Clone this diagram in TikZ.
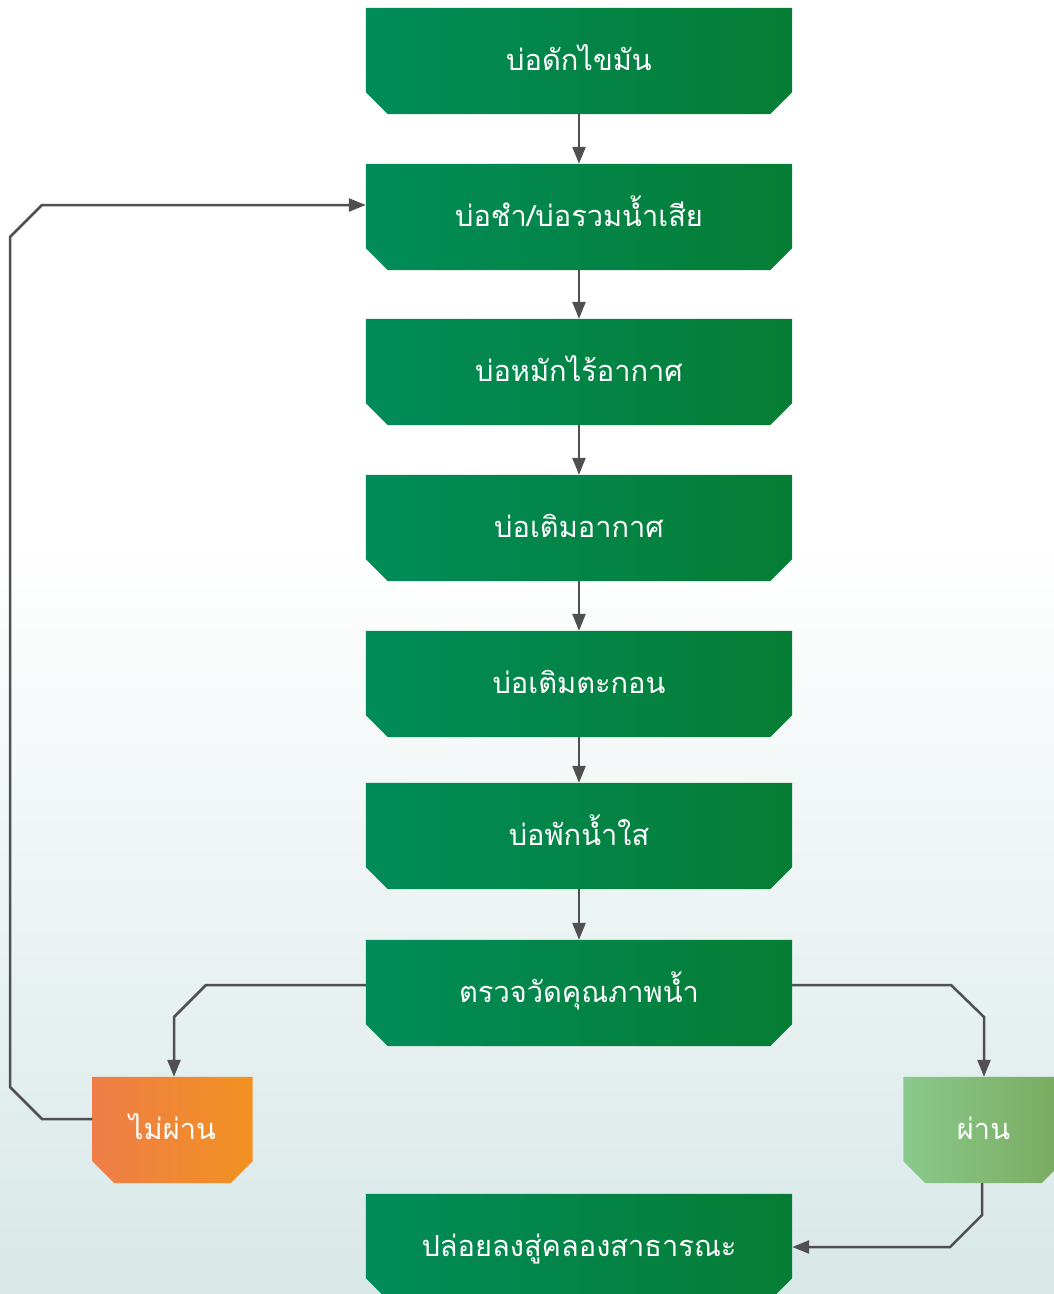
\documentclass[tikz,border=0pt]{standalone}
\usepackage{fontspec}
\newfontfamily\thaifont[Script=Thai]{Loma}
\usetikzlibrary{arrows.meta}
\definecolor{gleft}{RGB}{0,140,90}
\definecolor{gright}{RGB}{6,125,52}
\definecolor{oleft}{RGB}{238,125,72}
\definecolor{oright}{RGB}{242,146,33}
\definecolor{lleft}{RGB}{137,201,140}
\definecolor{lright}{RGB}{122,170,94}
\definecolor{bgbottom}{RGB}{216,232,231}
\definecolor{linegray}{RGB}{80,80,82}
\pgfdeclarelayer{backdrop}
\pgfdeclarelayer{boxes}
\pgfsetlayers{backdrop,boxes,main}
\tikzset{
  stage/.style={rectangle, minimum width=426pt, minimum height=106pt, inner sep=0pt,
    text height=24pt, text depth=6pt,
    draw=none, text=white, font=\thaifont\fontsize{29}{35}\selectfont},
  result/.style={stage, minimum width=160pt},
  conn/.style={draw=linegray, line width=2.5pt, -{Triangle[length=17pt,width=13pt]}},
  greenfill/.style={left color=gleft, right color=gright},
  orangefill/.style={left color=oleft, right color=oright},
  lightfill/.style={left color=lleft, right color=lright},
}
% box outline with cut lower corners, shaded behind a named node
\newcommand\cutbox[2]{%
  \begin{pgfonlayer}{boxes}
    \shade[#2] (#1.north west) -- (#1.north east) -- ([yshift=22pt]#1.south east)
      -- ([xshift=-22pt]#1.south east) -- ([xshift=22pt]#1.south west)
      -- ([yshift=22pt]#1.south west) -- cycle;
  \end{pgfonlayer}}
\begin{document}
\begin{tikzpicture}[x=1pt,y=-1pt]
  \useasboundingbox (0,0) rectangle (1054,1294);
  \clip (0,0) rectangle (1054,1294);
  % page background fading to pale teal
  \begin{pgfonlayer}{backdrop}
    \fill[white] (0,0) rectangle (1054,1294);
    \shade[top color=white, bottom color=bgbottom] (0,540) rectangle (1054,1294);
  \end{pgfonlayer}

  % treatment stages
  \node[stage] (b1) at (579,61)  {บ่อดักไขมัน};
  \node[stage] (b2) at (579,217) {บ่อชำ/บ่อรวมน้ำเสีย};
  \node[stage] (b3) at (579,372) {บ่อหมักไร้อากาศ};
  \node[stage] (b4) at (579,528) {บ่อเติมอากาศ};
  \node[stage] (b5) at (579,684) {บ่อเติมตะกอน};
  \node[stage] (b6) at (579,836) {บ่อพักน้ำใส};
  \node[stage] (b7) at (579,993) {ตรวจวัดคุณภาพน้ำ};
  \node[stage] (b8) at (579,1247) {ปล่อยลงสู่คลองสาธารณะ};
  \foreach \n in {b1,b2,b3,b4,b5,b6,b7,b8} {\cutbox{\n}{greenfill}}

  % test outcomes
  \node[result] (fail) at (172.5,1130) {ไม่ผ่าน};
  \node[result] (pass) at (983.5,1130) {ผ่าน};
  \cutbox{fail}{orangefill}
  \cutbox{pass}{lightfill}

  % main flow
  \foreach \a/\b in {b1/b2,b2/b3,b3/b4,b4/b5,b5/b6,b6/b7}
    \draw[conn] (\a.south) -- (\b.north);

  % branches from the water-quality check
  \draw[conn] ([yshift=8pt]b7.west) -- (206,985) -- (174,1017) -- (fail.north -| 174,0);
  \draw[conn] ([yshift=8pt]b7.east) -- (951,985) -- (984,1017) -- (pass.north -| 984,0);

  % failed water returns to the collection pond
  \draw[conn] ([yshift=11pt]fail.west) -- (42,1119) -- (10,1087) -- (10,237) -- (42,205) -- ([yshift=12pt]b2.west);

  % passed water is released
  \draw[conn] (pass.south -| 982,0) -- (982,1215) -- (950,1247) -- (b8.east);
\end{tikzpicture}
\end{document}
